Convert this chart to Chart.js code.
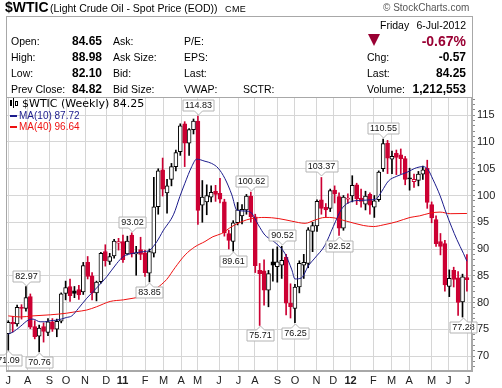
<!DOCTYPE html>
<html>
<head>
<meta charset="utf-8">
<script src="https://cdn.jsdelivr.net/npm/chart.js@4.4.0/dist/chart.umd.min.js"></script>
<style>
  html, body { margin: 0; padding: 0; background: #fff; }
  #wrap { position: relative; width: 502px; height: 388px; overflow: hidden;
          font-family: "Liberation Sans", Arial, sans-serif; color: #000; }
  #wrap canvas { position: absolute; left: 0; top: 0; }
  .t { position: absolute; white-space: nowrap; line-height: 12px; font-size: 10.5px; }
  .b { font-weight: bold; font-size: 12px; }
  .r { text-align: right; }
  #box { position: absolute; left: 6px; top: 16px; width: 467px; height: 82px;
         box-sizing: border-box; border: 1px solid #a8a8a8; border-bottom: none; }
  .leg { position: absolute; white-space: nowrap; line-height: 12px; z-index: 2; }
</style>
</head>
<body>
<div id="wrap">
  <canvas id="chart" width="502" height="388"></canvas>
  <div id="box"></div>

  <!-- titulo -->
  <div class="t" style="left:5px;top:-1px;line-height:16px;font-size:14px;font-weight:bold;">$WTIC</div>
  <div class="t" style="left:50px;top:2px;">(Light Crude Oil - Spot Price (EOD))</div>
  <div class="t" style="left:225px;top:3px;font-size:9px;letter-spacing:0.4px;">CME</div>
  <div class="t" style="left:383px;top:2px;font-size:10px;color:#555;">&copy; StockCharts.com</div>

  <!-- cabecalho de cotacao -->
  <div class="t" style="left:380px;top:19px;">Friday</div>
  <div class="t r" style="right:36px;top:19px;">6-Jul-2012</div>

  <div class="t" style="left:11px;top:35px;">Open:</div>
  <div class="t b r" style="right:400px;top:35px;">84.65</div>
  <div class="t" style="left:113px;top:35px;">Ask:</div>
  <div class="t" style="left:184px;top:35px;">P/E:</div>

  <div class="t" style="left:11px;top:51px;">High:</div>
  <div class="t b r" style="right:400px;top:51px;">88.98</div>
  <div class="t" style="left:113px;top:51px;">Ask Size:</div>
  <div class="t" style="left:184px;top:51px;">EPS:</div>

  <div class="t" style="left:11px;top:67px;">Low:</div>
  <div class="t b r" style="right:400px;top:67px;">82.10</div>
  <div class="t" style="left:113px;top:67px;">Bid:</div>
  <div class="t" style="left:184px;top:67px;">Last:</div>

  <div class="t" style="left:11px;top:83px;">Prev Close:</div>
  <div class="t b r" style="right:400px;top:83px;">84.82</div>
  <div class="t" style="left:113px;top:83px;">Bid Size:</div>
  <div class="t" style="left:184px;top:83px;">VWAP:</div>
  <div class="t" style="left:243px;top:83px;">SCTR:</div>

  <div style="position:absolute;left:368px;top:34px;width:0;height:0;border-left:6px solid transparent;border-right:6px solid transparent;border-top:12px solid #990033;"></div>
  <div class="t r" style="right:36px;top:34px;font-size:14px;line-height:14px;font-weight:bold;color:#990033;">-0.67%</div>
  <div class="t" style="left:367px;top:51px;">Chg:</div>
  <div class="t b r" style="right:36px;top:51px;">-0.57</div>
  <div class="t" style="left:367px;top:67px;">Last:</div>
  <div class="t b r" style="right:36px;top:67px;">84.25</div>
  <div class="t" style="left:367px;top:83px;">Volume:</div>
  <div class="t b r" style="right:36px;top:83px;">1,212,553</div>

  <!-- legenda dentro do grafico -->
  <div style="position:absolute;left:10px;top:100px;width:2px;height:6px;background:#000;z-index:2;"></div>
  <div style="position:absolute;left:13px;top:98px;width:1px;height:10px;background:#000;z-index:2;"></div>
  <div style="position:absolute;left:15px;top:101px;width:3px;height:5px;border:1px solid #000;box-sizing:border-box;z-index:2;"></div>
  <div class="leg" style="left:22px;top:98px;font-family:'DejaVu Sans';font-size:11px;">$WTIC (Weekly) 84.25</div>
  <div style="position:absolute;left:10px;top:115px;width:7px;height:2px;background:#1c1c8c;z-index:2;"></div>
  <div class="leg" style="left:19px;top:110px;font-size:10px;color:#1c1c8c;">MA(10) 87.72</div>
  <div style="position:absolute;left:10px;top:126px;width:7px;height:2px;background:#ee1111;z-index:2;"></div>
  <div class="leg" style="left:19px;top:121px;font-size:10px;color:#ee1111;">MA(40) 96.64</div>
</div>

<script>
// ======== Dados semanais ($WTIC, semana 0 = 9-Jul-2010 ... semana 104 = 6-Jul-2012) ========
const opens = [
  74.2, 76.3, 76.0, 79.1, 78.9, 81.1, 75.5, 73.7, 75.5, 74.4,
  76.4, 75.0, 76.5, 81.7, 83.0, 82.2, 82.4, 82.0, 87.5, 85.0,
  81.8, 83.9, 89.5, 87.7, 88.7, 91.1, 91.4, 89.1, 92.6, 89.1,
  89.9, 89.3, 85.5, 89.2, 97.9, 104.8, 100.5, 103.0, 105.4, 108.2,
  113.4, 109.8, 112.3, 113.9, 98.2, 98.8, 99.7, 100.8, 100.4, 98.8,
  92.9, 91.4, 94.9, 96.2, 97.3, 99.9, 96.0, 86.0, 85.9, 82.3,
  87.6, 86.7, 87.0, 88.5, 79.9, 78.9, 82.9, 87.0, 87.3, 93.3,
  94.3, 99.2, 97.8, 97.6, 101.0, 99.8, 93.9, 99.3, 99.9, 102.0,
  99.5, 98.4, 100.2, 97.8, 99.2, 105.0, 109.8, 106.8, 107.9, 107.6,
  106.9, 103.3, 102.6, 102.8, 104.0, 105.1, 98.3, 95.5, 91.4, 91.0,
  83.0, 86.0, 84.6, 80.1, 84.65
];
const highs = [
  76.6, 77.4, 79.5, 79.6, 82.97, 81.6, 76.6, 75.8, 76.2, 77.0,
  77.0, 76.9, 81.8, 84.0, 84.4, 83.0, 83.2, 87.5, 88.6, 85.6,
  84.0, 89.4, 90.8, 89.2, 91.8, 92.0, 92.6, 92.4, 93.02, 90.5,
  92.2, 89.8, 90.0, 103.4, 105.0, 107.0, 103.0, 106.0, 108.5, 113.4,
  113.8, 112.5, 114.3, 114.83, 102.8, 102.0, 101.8, 101.9, 103.2, 99.3,
  93.5, 95.3, 98.7, 98.3, 100.2, 100.62, 96.5, 87.3, 88.0, 86.0,
  90.0, 90.4, 90.52, 89.0, 83.5, 83.4, 87.8, 89.0, 94.0, 95.0,
  99.2, 103.37, 98.5, 101.2, 101.8, 100.5, 100.0, 100.3, 103.7, 102.3,
  101.2, 100.8, 100.5, 100.0, 104.6, 110.55, 110.3, 108.3, 108.5, 108.7,
  107.3, 105.1, 104.0, 104.5, 105.5, 106.6, 98.8, 96.2, 92.9, 91.6,
  86.1, 86.6, 85.8, 85.3, 88.98
];
const lows = [
  71.09, 74.5, 75.6, 76.9, 78.4, 75.1, 73.2, 70.76, 72.6, 73.8,
  74.6, 73.6, 76.2, 80.5, 80.2, 80.9, 80.6, 81.5, 84.4, 80.5,
  80.3, 83.6, 86.8, 87.1, 88.3, 89.8, 87.5, 88.9, 88.5, 85.1,
  88.0, 84.9, 83.85, 88.5, 96.5, 99.9, 96.7, 101.8, 104.6, 107.5,
  105.4, 107.5, 111.5, 94.6, 95.0, 96.4, 98.8, 98.9, 98.6, 92.4,
  90.0, 89.61, 94.5, 94.7, 96.5, 95.0, 85.6, 75.71, 79.5, 79.2,
  84.0, 83.8, 84.5, 77.7, 77.1, 76.25, 81.8, 84.5, 86.5, 89.5,
  93.3, 96.5, 96.0, 97.0, 98.6, 92.52, 93.5, 98.5, 98.8, 98.3,
  97.8, 97.3, 96.5, 95.9, 98.9, 104.5, 104.1, 104.1, 103.9, 104.0,
  102.0, 101.0, 101.5, 101.8, 103.0, 97.6, 94.9, 90.5, 88.9, 82.1,
  81.1, 82.9, 77.6, 77.28, 82.10
];
const closes = [
  76.3, 76.0, 79.1, 78.9, 80.9, 75.4, 73.6, 75.2, 74.6, 76.4,
  75.0, 76.5, 81.6, 82.8, 81.3, 81.7, 81.4, 86.9, 84.9, 81.8,
  83.8, 89.2, 87.8, 88.6, 91.5, 91.4, 88.0, 91.5, 89.1, 89.3,
  89.0, 85.6, 89.5, 97.9, 104.6, 101.2, 101.8, 105.4, 108.0, 113.0,
  109.8, 112.3, 113.9, 97.2, 99.7, 100.0, 100.6, 100.2, 99.3, 93.0,
  91.6, 94.9, 97.3, 97.4, 99.9, 96.0, 86.9, 85.4, 82.3, 85.4,
  87.0, 87.6, 87.9, 79.9, 79.2, 82.9, 87.3, 87.5, 93.6, 94.4,
  98.9, 97.6, 97.3, 100.9, 100.3, 93.9, 99.7, 99.5, 101.9, 99.4,
  98.9, 99.9, 98.2, 99.0, 104.4, 109.7, 107.0, 107.3, 107.1, 106.9,
  103.0, 103.1, 103.0, 104.0, 104.8, 98.7, 95.8, 91.0, 90.5, 83.3,
  84.5, 84.3, 80.0, 84.82, 84.25
];

// Medias moveis (posicao em semanas, valor)
const ma10Week = [0, 1.1, 2.7, 4.5, 5.6, 7.2, 8.3, 9.5, 11, 13.2, 14.4, 15.9, 17.8, 20, 22.3, 24.6,
  26.1, 28.3, 30.6, 32.1, 33.7, 35.1, 37.5, 38.9, 40, 41.6, 42.7, 44.6, 46.1, 47.6, 49.1, 50.7,
  51.8, 53.7, 55.2, 56.7, 58.2, 59.7, 61.2, 62.7, 64.3, 65, 66.5, 68, 69.5, 71.8, 73.7, 75.6,
  77.9, 80.1, 82.4, 83.5, 84.7, 86.2, 88.1, 90.3, 92.6, 94.1, 95.2, 96.3, 97.9, 99.4, 101.7, 103.2, 104];
const ma10Value = [74.1, 74.5, 75.5, 76.7, 76.9, 76.4, 76.4, 76.6, 76.7, 77.2, 77.5, 78.9, 80.8, 82.7, 84.8, 87.3,
  88.6, 89.2, 89.5, 89.8, 91.4, 93.4, 96.5, 99.8, 102.2, 105.4, 106.8, 106.4, 106.0, 105.1, 103.2, 100.1,
  97.3, 97.1, 96.7, 94.5, 92.6, 91.7, 90.7, 89.2, 86.1, 84.4, 84.6, 86.8, 88.3, 90.7, 94.2, 97.5,
  98.9, 99.1, 99.2, 99.4, 100.8, 102.7, 103.6, 104.3, 105.2, 105.4, 104.8, 103.0, 100.0, 96.5, 91.8, 89.2, 87.72];
const ma40Week = [0, 2.7, 5.6, 9.5, 13.2, 15.5, 17.8, 20, 23.1, 26.1, 28.3, 31.4, 33.7, 35.9, 37.8, 40.1,
  42.3, 44.6, 46.4, 48.4, 50.7, 52.9, 55.2, 58.2, 61.2, 64.3, 67.3, 69.5, 71.8, 72.9, 76.7, 80.5,
  82.8, 85, 88.1, 91.1, 93.3, 95.6, 97.9, 100.2, 104];
const ma40Value = [77.5, 77.3, 77.5, 77.7, 78.0, 78.3, 78.6, 79.2, 80.2, 80.5, 80.8, 81.4, 82.7, 84.3, 86.5, 88.9,
  90.4, 91.4, 92.3, 92.9, 94.2, 95.1, 95.7, 95.9, 95.7, 95.2, 94.8, 95.4, 95.9, 95.9, 95.2, 94.4,
  94.2, 94.5, 95.1, 95.9, 96.2, 96.7, 96.9, 96.6, 96.64];

// Eixo X: rotulos dos meses e posicao (em semanas)
const monthLabels = ['J', 'A', 'S', 'O', 'N', 'D', '11', 'F', 'M', 'A', 'M', 'J', 'J',
  'A', 'S', 'O', 'N', 'D', '12', 'F', 'M', 'A', 'M', 'J', 'J'];
const monthWeek = [0, 4.4, 9.3, 13.1, 17.4, 22.2, 25.9, 31.0, 35.2, 39.2, 42.9, 47.8, 52.2,
  55.9, 61.0, 65.0, 69.9, 73.7, 77.6, 82.8, 86.9, 90.9, 96.0, 99.9, 104.2];

// Eixo Y
const priceTicks = [70, 75, 80, 85, 90, 95, 100, 105, 110, 115];

// Etiquetas de maximas / minimas
const tagWeek = [0, 4, 7, 28, 32, 43, 51, 55, 57, 62, 65, 71, 75, 85, 103];
const tagSide = ['low', 'high', 'low', 'high', 'low', 'high', 'low', 'high', 'low', 'high', 'low', 'high', 'low', 'high', 'low'];

// ======== Cores ========
const VERMELHO = '#cc0033';
const PRETO = '#000000';
const AZUL_MA = '#1c1c8c';
const VERMELHO_MA = '#ee1111';
const GRADE = '#d6d6d6';

const semanas = closes.map((_, i) => i);
const corCandle = (i) => (i > 0 && closes[i] < closes[i - 1]) ? VERMELHO : PRETO;
const preenchido = (i) => closes[i] < opens[i];

const dadosPavio = semanas.map((i) => ({ x: i, y: [lows[i], highs[i]] }));
const dadosCorpo = semanas.map((i) => {
  let a = Math.min(opens[i], closes[i]);
  let b = Math.max(opens[i], closes[i]);
  if (b - a < 0.2) { const m = (a + b) / 2; a = m - 0.1; b = m + 0.1; }
  return { x: i, y: [a, b] };
});
const dadosMA10 = ma10Week.map((w, k) => ({ x: w, y: ma10Value[k] }));
const dadosMA40 = ma40Week.map((w, k) => ({ x: w, y: ma40Value[k] }));

// ======== Plugin: moldura da area do grafico ========
const moldura = {
  id: 'moldura',
  afterDraw(chart) {
    const { ctx, chartArea: a } = chart;
    ctx.save();
    ctx.strokeStyle = '#a8a8a8';
    ctx.lineWidth = 1;
    ctx.strokeRect(a.left + 0.5, a.top + 0.5, a.right - a.left - 1, a.bottom - a.top - 1);
    ctx.restore();
  }
};

// ======== Plugin: etiquetas de preco (maximas e minimas) ========
const etiquetas = {
  id: 'etiquetas',
  afterDatasetsDraw(chart) {
    const { ctx, chartArea: a, scales: { x, y } } = chart;
    ctx.save();
    ctx.beginPath();
    ctx.rect(0, a.top, chart.width, a.bottom - a.top);
    ctx.clip();
    ctx.font = '9px "Liberation Sans", Arial, sans-serif';
    ctx.textAlign = 'center';
    ctx.textBaseline = 'middle';
    tagWeek.forEach((i, k) => {
      const alto = tagSide[k] === 'high';
      const v = alto ? highs[i] : lows[i];
      const txt = v.toFixed(2);
      const px = Math.round(x.getPixelForValue(i)) + 0.5;
      const py = Math.round(y.getPixelForValue(v));
      const w = Math.ceil(ctx.measureText(txt).width) + 4;
      const h = 11;
      const bx = Math.round(px - w / 2);
      const by = alto ? py - 5 - h : py + 5;
      ctx.beginPath();
      if (alto) {
        ctx.moveTo(bx, by); ctx.lineTo(bx + w, by); ctx.lineTo(bx + w, by + h);
        ctx.lineTo(px + 4, by + h); ctx.lineTo(px, by + h + 4); ctx.lineTo(px - 4, by + h);
        ctx.lineTo(bx, by + h);
      } else {
        ctx.moveTo(bx, by); ctx.lineTo(px - 4, by); ctx.lineTo(px, by - 4); ctx.lineTo(px + 4, by);
        ctx.lineTo(bx + w, by); ctx.lineTo(bx + w, by + h); ctx.lineTo(bx, by + h);
      }
      ctx.closePath();
      ctx.fillStyle = '#fff';
      ctx.fill();
      ctx.strokeStyle = '#b4b4b4';
      ctx.lineWidth = 1;
      ctx.stroke();
      ctx.fillStyle = '#111';
      ctx.fillText(txt, px, by + h / 2 + 0.5);
    });
    ctx.restore();
  }
};

// ======== Grafico ========
new Chart(document.getElementById('chart').getContext('2d'), {
  type: 'bar',
  data: {
    datasets: [
      {
        type: 'line', label: 'MA(10)', data: dadosMA10, borderColor: AZUL_MA, borderWidth: 1,
        pointRadius: 0, cubicInterpolationMode: 'monotone', order: 0
      },
      {
        type: 'line', label: 'MA(40)', data: dadosMA40, borderColor: VERMELHO_MA, borderWidth: 1,
        pointRadius: 0, cubicInterpolationMode: 'monotone', order: 1
      },
      {
        type: 'bar', label: 'corpo', data: dadosCorpo, grouped: false, barThickness: 4,
        backgroundColor: (c) => preenchido(c.dataIndex) ? corCandle(c.dataIndex) : '#ffffff',
        borderColor: (c) => corCandle(c.dataIndex), borderWidth: 1, borderSkipped: false, order: 2
      },
      {
        type: 'bar', label: 'pavio', data: dadosPavio, grouped: false, barThickness: 1,
        backgroundColor: (c) => corCandle(c.dataIndex), borderWidth: 0, order: 3
      }
    ]
  },
  options: {
    responsive: false,
    animation: false,
    events: [],
    layout: { padding: { left: 6, top: 97, right: 0, bottom: 0 } },
    plugins: { legend: { display: false }, tooltip: { enabled: false } },
    scales: {
      x: {
        type: 'linear', min: -0.52, max: 105.15, offset: false,
        afterBuildTicks: (s) => { s.ticks = monthWeek.map((v) => ({ value: v })); },
        afterFit: (s) => { s.height = 17; },
        ticks: {
          autoSkip: false, maxRotation: 0, padding: 3, color: '#222',
          callback: (v, i) => monthLabels[i],
          font: (c) => ({ family: '"Liberation Sans", Arial, sans-serif', size: 11,
            weight: /^\d/.test(monthLabels[c.index] || '') ? 'bold' : 'normal' })
        },
        grid: { color: GRADE, drawTicks: false, offset: false },
        border: { color: '#a8a8a8' }
      },
      y: {
        position: 'right', min: 67.2, max: 118.41,
        afterBuildTicks: (s) => {
          const t = [];
          for (let v = 68; v <= 118; v++) t.push({ value: v });
          s.ticks = t;
        },
        afterFit: (s) => { s.width = 30; },
        ticks: {
          autoSkip: false, padding: 2, color: '#222',
          font: { family: '"Liberation Sans", Arial, sans-serif', size: 11 },
          callback: (v) => priceTicks.includes(v) ? String(v) : ''
        },
        grid: {
          color: (c) => (c.tick && priceTicks.includes(c.tick.value)) ? GRADE : 'rgba(0,0,0,0)',
          tickColor: '#8a8a8a', tickLength: 3
        },
        border: { color: '#a8a8a8' }
      }
    }
  },
  plugins: [etiquetas, moldura]
});
</script>
</body>
</html>
